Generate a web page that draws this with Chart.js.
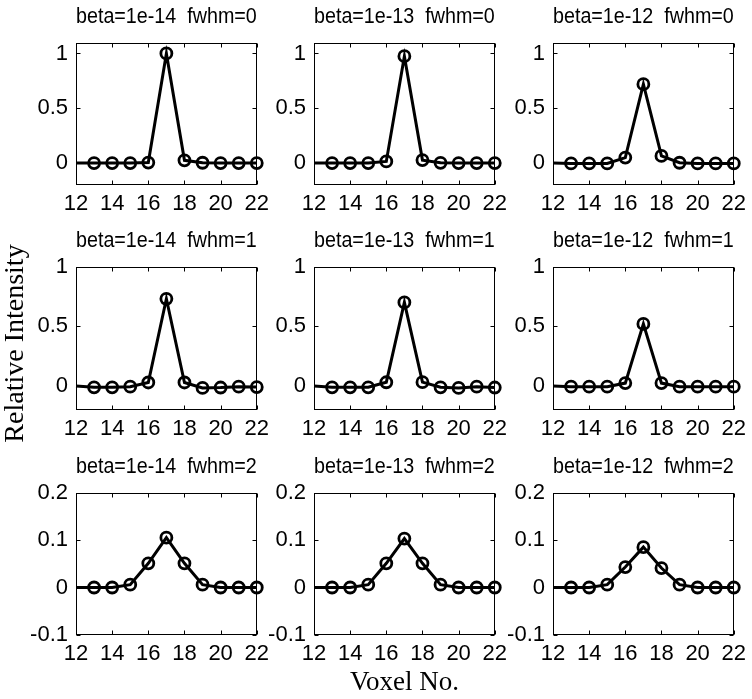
<!DOCTYPE html>
<html><head><meta charset="utf-8">
<script src="https://cdn.jsdelivr.net/npm/chart.js@4.4.0/dist/chart.umd.min.js"></script>
<style>
html,body{margin:0;padding:0;background:#fff;}
#fig{position:relative;width:752px;height:699px;overflow:hidden;background:#fff;}
#fig canvas{position:absolute;}
</style></head><body><div id="fig"></div>
<script>
// ---- data ----
const voxels = [12, 13, 14, 15, 16, 17, 18, 19, 20, 21, 22]; // 12 = lead-in of the line (no marker)
const markerFrom = 13;
const betaLabels = ['1e-14', '1e-13', '1e-12'];
const fwhmLabels = [0, 1, 2];
const xTicks = [12, 14, 16, 18, 20, 22];
const xRange = [12, 22];

const b14_f0 = [0, 0, 0, 0, 0.005, 1.0, 0.025, 0.003, 0, 0, 0];
const b13_f0 = [0, 0, 0, 0, 0.015, 0.975, 0.027, 0.002, 0, 0, 0];
const b12_f0 = [0, -0.003, -0.003, -0.003, 0.05, 0.72, 0.065, 0.003, -0.003, -0.003, -0.003];

const b14_f1 = [0, -0.01, -0.01, -0.005, 0.03, 0.73, 0.03, -0.015, -0.012, -0.005, -0.008];
const b13_f1 = [0, -0.01, -0.01, -0.01, 0.032, 0.70, 0.033, -0.01, -0.015, -0.005, -0.012];
const b12_f1 = [0, -0.005, -0.005, -0.005, 0.025, 0.52, 0.025, -0.005, -0.005, -0.005, -0.005];

const b14_f2 = [0, 0, 0, 0.006, 0.051, 0.105, 0.051, 0.006, 0, 0, 0];
const b13_f2 = [0, 0, 0, 0.006, 0.051, 0.103, 0.051, 0.006, 0, 0, 0];
const b12_f2 = [0, 0, 0, 0.006, 0.043, 0.085, 0.041, 0.006, 0, 0, 0];

const yTicksF0 = [0, 0.5, 1];
const yTicksF1 = [0, 0.5, 1];
const yTicksF2 = [-0.1, 0, 0.1, 0.2];
const yRangeF0 = [-0.2, 1.1];
const yRangeF1 = [-0.2, 1.0];
const yRangeF2 = [-0.1, 0.2];

const series = [[b14_f0, b13_f0, b12_f0], [b14_f1, b13_f1, b12_f1], [b14_f2, b13_f2, b12_f2]];
const yTicksByRow = [yTicksF0, yTicksF1, yTicksF2];
const yRangeByRow = [yRangeF0, yRangeF1, yRangeF2];

// ---- layout ----
const PL = [76, 314, 553], PW = 177;
const PT = [41, 265, 491], PH = [144, 145, 144];
const ML = 76, MR = 22, MT = 41;
const YTITLE_W = 34;
const SANS = '"Liberation Sans", Arial, Helvetica, sans-serif';
const SERIF = '"Liberation Serif", "Times New Roman", serif';
const fmt = v => String(Math.round(v * 100) / 100);

const framePlugin = {
  id: 'frame',
  beforeDatasetsDraw(chart) {
    const {ctx, chartArea: a, scales: {x, y}} = chart;
    ctx.save();
    ctx.strokeStyle = '#000';
    ctx.lineWidth = 1;
    const L = Math.round(a.left) + 0.5, R = Math.round(a.right) - 0.5;
    const T = Math.round(a.top) + 0.5, B = Math.round(a.bottom) - 0.5;
    ctx.strokeRect(L, T, R - L, B - T);
    const tl = 4;
    ctx.beginPath();
    x.ticks.forEach(t => {
      const px = Math.round(x.getPixelForValue(t.value)) + 0.5;
      ctx.moveTo(px, B); ctx.lineTo(px, B - tl);
      ctx.moveTo(px, T); ctx.lineTo(px, T + tl);
    });
    y.ticks.forEach(t => {
      const py = Math.round(y.getPixelForValue(t.value)) + 0.5;
      ctx.moveTo(L, py); ctx.lineTo(L + tl, py);
      ctx.moveTo(R, py); ctx.lineTo(R - tl, py);
    });
    ctx.stroke();
    ctx.restore();
  }
};

const fig = document.getElementById('fig');
for (let r = 0; r < 3; r++) {
  for (let c = 0; c < 3; c++) {
    const withXTitle = (r === 2 && c === 1);
    const withYTitle = (r === 1 && c === 0);
    const mb = withXTitle ? 64 : (withYTitle ? 53 : 40);
    const w = ML + PW + MR, h = MT + PH[r] + mb;
    const cv = document.createElement('canvas');
    cv.width = w; cv.height = h;
    cv.style.left = (PL[c] - ML) + 'px';
    cv.style.top = (PT[r] - MT) + 'px';
    cv.style.width = w + 'px'; cv.style.height = h + 'px';
    fig.appendChild(cv);
    const vals = series[r][c];
    new Chart(cv, {
      type: 'line',
      data: {
        datasets: [{
          data: voxels.map((v, i) => ({x: v, y: vals[i]})),
          borderColor: '#000',
          borderWidth: 3,
          tension: 0,
          pointRadius: ctx => voxels[ctx.dataIndex] < markerFrom ? 0 : 5.5,
          pointBorderWidth: 2.8,
          pointBorderColor: '#000',
          pointBackgroundColor: 'rgba(0,0,0,0)',
          clip: false
        }]
      },
      options: {
        responsive: false,
        animation: false,
        devicePixelRatio: 1,
        layout: {padding: 0},
        events: [],
        plugins: {
          legend: {display: false},
          tooltip: {enabled: false},
          title: {
            display: true,
            text: 'beta=' + betaLabels[c] + '  fwhm=' + fwhmLabels[r],
            fullSize: false,
            color: '#000',
            font: {family: SANS, size: 22.5, weight: 'normal', lineHeight: 1},
            padding: {top: 6, bottom: 14}
          },
          subtitle: {
            display: withYTitle,
            text: 'Relative Intensity',
            position: 'left',
            fullSize: true,
            color: '#000',
            font: {family: SERIF, size: 28, weight: 'normal', lineHeight: 1},
            padding: {top: 2, bottom: 4}
          }
        },
        scales: {
          x: {
            type: 'linear',
            min: xRange[0], max: xRange[1],
            grid: {display: false, drawTicks: false, tickLength: 0},
            border: {display: false},
            afterBuildTicks: s => { s.ticks = xTicks.map(v => ({value: v})); },
            afterFit: s => { s.height = mb; },
            ticks: {autoSkip: false, maxRotation: 0, minRotation: 0, padding: 6, color: '#000',
                    callback: fmt, font: {family: SANS, size: 22, lineHeight: 1.2}},
            title: {display: withXTitle, text: 'Voxel No.', color: '#000',
                    font: {family: SERIF, size: 27, lineHeight: 1}, padding: {top: 0, bottom: 2.5}}
          },
          y: {
            type: 'linear',
            min: yRangeByRow[r][0], max: yRangeByRow[r][1],
            grid: {display: false, drawTicks: false, tickLength: 0},
            border: {display: false},
            afterBuildTicks: s => { s.ticks = yTicksByRow[r].map(v => ({value: v})); },
            afterFit: s => { s.width = withYTitle ? ML - YTITLE_W : ML; },
            ticks: {autoSkip: false, padding: 8, color: '#000',
                    callback: fmt, font: {family: SANS, size: 22, lineHeight: 1.2}}
          }
        }
      },
      plugins: [framePlugin]
    });
  }
}
</script>
</body></html>
